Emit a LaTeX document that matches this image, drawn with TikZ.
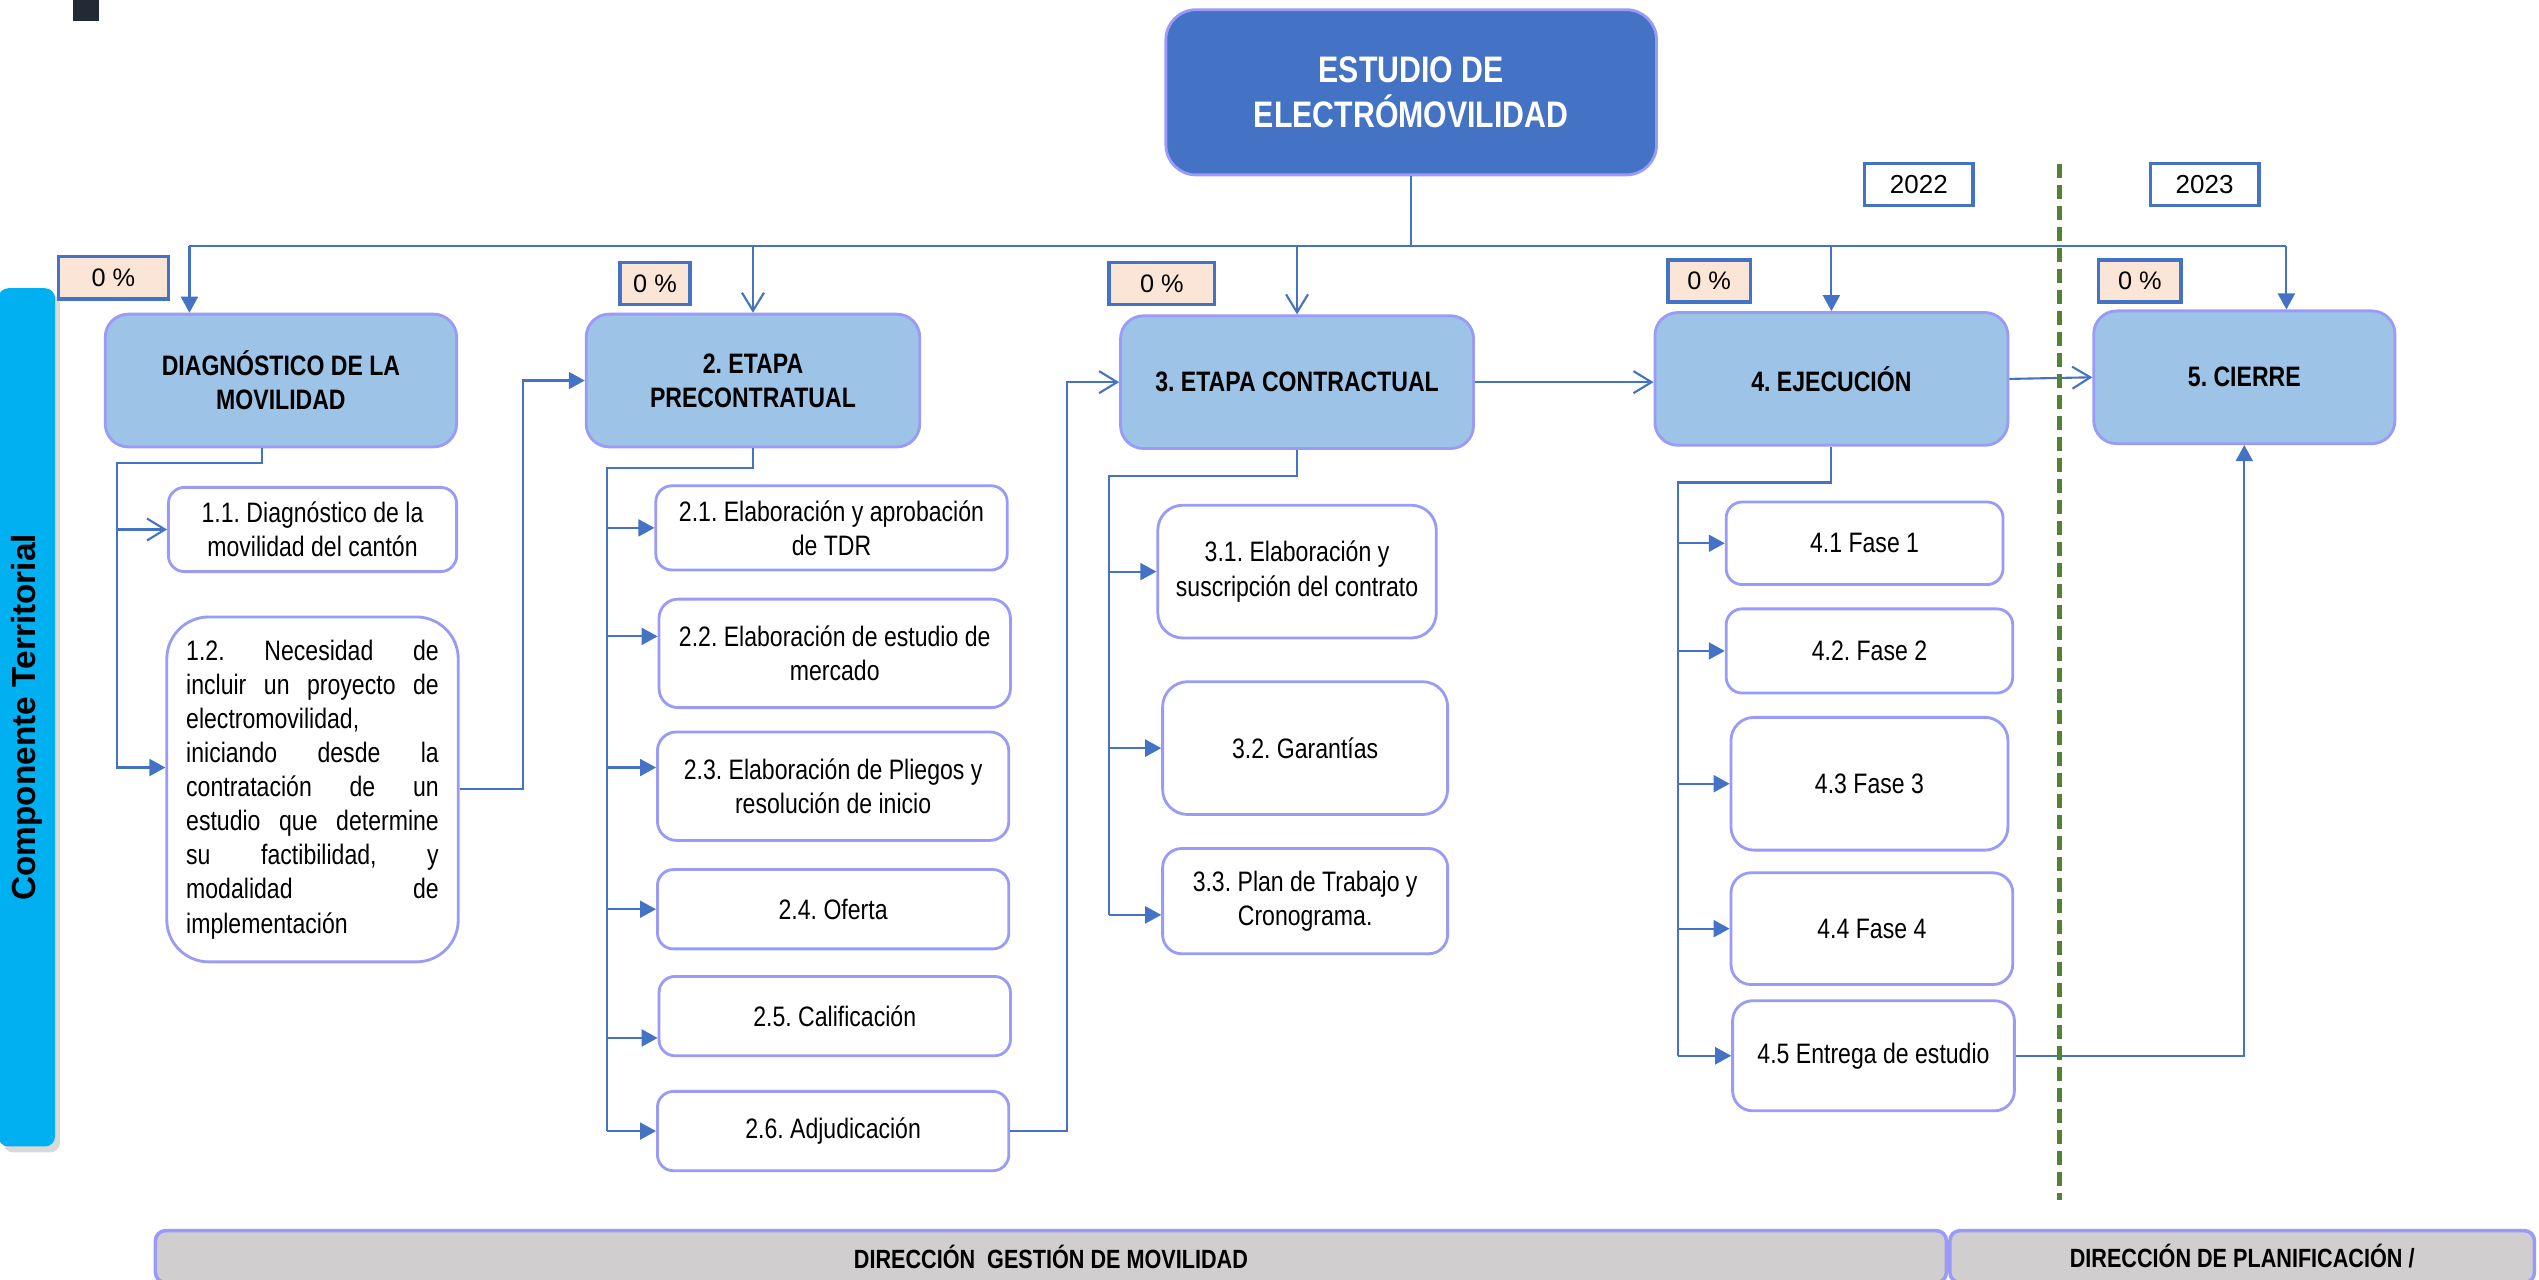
\documentclass[tikz,border=0pt]{standalone}
\usepackage{fontspec}
\setmainfont[FakeStretch=0.82]{Liberation Sans}
\newfontfamily\widesans{Liberation Sans}
\usepackage{graphicx}
\usepackage{tikz}
\usetikzlibrary{positioning, arrows.meta, shadows}

\definecolor{rootblue}{HTML}{4472C4}
\definecolor{phaseblue}{HTML}{9DC3E6}
\definecolor{boxedge}{HTML}{9A9AF8}
\definecolor{pctfill}{HTML}{FBE5D6}
\definecolor{sidecyan}{HTML}{00B0F0}
\definecolor{unitgray}{HTML}{D0CECE}
\definecolor{splitgreen}{HTML}{548235}
\definecolor{titledark}{HTML}{222A35}

\newcommand{\pxu}{0.1619mm}
\frenchspacing

\begin{document}
\begin{tikzpicture}[x=0.1619mm, y=-0.1619mm]
		% Styles
		\tikzstyle{rootblock} = [rectangle, draw=boxedge, line width=0.8pt, fill=rootblue,
		text=white, font=\bfseries\fontsize{10.5}{12.9}\selectfont, align=center,
		rounded corners=3mm, minimum width=303*\pxu, minimum height=102*\pxu]
		\tikzstyle{phase} = [rectangle, draw=boxedge, line width=0.8pt, fill=phaseblue,
		font=\bfseries\fontsize{8}{9.7}\selectfont, align=center, rounded corners=2.3mm,
		minimum height=82*\pxu]
		\tikzstyle{task} = [rectangle, draw=boxedge, line width=0.8pt, fill=white,
		font=\fontsize{8}{9.7}\selectfont, align=center, rounded corners=1.6mm]
		\tikzstyle{percent} = [rectangle, draw=rootblue, line width=1pt, fill=pctfill,
		font=\widesans\fontsize{7.2}{8}\selectfont, inner sep=0pt, minimum height=26*\pxu]
		\tikzstyle{yearbox} = [rectangle, draw=rootblue, line width=1pt, fill=white,
		font=\widesans\fontsize{7.4}{8}\selectfont, minimum width=67*\pxu, minimum height=26*\pxu]
		\tikzstyle{unit} = [rectangle, draw=boxedge, line width=1pt, fill=unitgray,
		font=\bfseries\fontsize{7.5}{9}\selectfont, rounded corners=1mm, minimum height=32*\pxu]
		\tikzstyle{sidebar} = [rectangle, fill=sidecyan, rounded corners=1mm,
		font=\widesans\bfseries\fontsize{9.5}{11}\selectfont,
		minimum width=35*\pxu, minimum height=530*\pxu,
		drop shadow={shadow xshift=0.5mm, shadow yshift=-0.6mm, opacity=0.3}]
		\tikzstyle{wire} = [draw=rootblue, line width=0.6pt]
		\tikzstyle{line} = [wire, -{Triangle[length=1.6mm, width=1.7mm]}]
		\tikzstyle{openline} = [wire, -{Straight Barb[length=1.8mm, width=2.2mm]}]
		\tikzstyle{split} = [draw=splitgreen, line width=1.5pt, dash pattern=on 1.4mm off 0.7mm]

		\useasboundingbox (0,0) rectangle (1568,790);
		\fill [titledark] (45,-5) rectangle (61,13);

		% Nodes
		\node [sidebar] (territorio) at (16.5,443) {\rotatebox{90}{Componente Territorial}};
		\node [rootblock] (root) at (871.5,57) {ESTUDIO DE\\ELECTRÓMOVILIDAD};
		\node [yearbox] (y2022) at (1185,114) {2022};
		\node [yearbox] (y2023) at (1361.5,114) {2023};

		\node [phase, minimum width=217*\pxu] (diag) at (173.5,235) {DIAGNÓSTICO DE LA\\MOVILIDAD};
		\node [phase, minimum width=206*\pxu] (etapa2) at (465,235) {2. ETAPA\\PRECONTRATUAL};
		\node [phase, minimum width=218*\pxu] (etapa3) at (801,236) {3. ETAPA CONTRACTUAL};
		\node [phase, minimum width=218*\pxu] (ejec) at (1131,234) {4. EJECUCIÓN};
		\node [phase, minimum width=186*\pxu] (cierre) at (1386,233) {5. CIERRE};

		\node [percent, minimum width=68*\pxu] (pct1) at (70,171.5) {0 \%};
		\node [percent, minimum width=43*\pxu] (pct2) at (404.5,175) {0 \%};
		\node [percent, minimum width=65*\pxu] (pct3) at (717.5,175) {0 \%};
		\node [percent, minimum width=51*\pxu] (pct4) at (1055.5,173.5) {0 \%};
		\node [percent, minimum width=51*\pxu] (pct5) at (1321.5,173.5) {0 \%};

		\node [task, minimum width=178*\pxu, minimum height=52*\pxu] (t11) at (193,327) {1.1. Diagnóstico de la\\movilidad del cantón};
		\node [task, minimum width=180*\pxu, minimum height=213*\pxu, rounded corners=4.2mm,
		text width=156*\pxu, align=justify] (t12) at (193,487.5)
		{\hyphenpenalty=10000 1.2. Necesidad de\linebreak incluir un proyecto de\linebreak electromovilidad,\newline iniciando desde la\linebreak contratación de un\linebreak estudio que determine\linebreak su factibilidad, y\linebreak modalidad de\linebreak implementación};

		\node [task, minimum width=217*\pxu, minimum height=52*\pxu] (t21) at (513.5,326) {2.1. Elaboración y aprobación\\de TDR};
		\node [task, minimum width=217*\pxu, minimum height=67*\pxu, rounded corners=1.9mm] (t22) at (515.5,403.5) {2.2. Elaboración de estudio de\\mercado};
		\node [task, minimum width=217*\pxu, minimum height=67*\pxu, rounded corners=1.9mm] (t23) at (514.5,485.5) {2.3. Elaboración de Pliegos y\\resolución de inicio};
		\node [task, minimum width=217*\pxu, minimum height=49*\pxu] (t24) at (514.5,561.5) {2.4. Oferta};
		\node [task, minimum width=217*\pxu, minimum height=49*\pxu] (t25) at (515.5,627.5) {2.5. Calificación};
		\node [task, minimum width=217*\pxu, minimum height=49*\pxu] (t26) at (514.5,698.5) {2.6. Adjudicación};

		\node [task, minimum width=172*\pxu, minimum height=82*\pxu, rounded corners=2.5mm] (t31) at (801,353) {3.1. Elaboración y\\suscripción del contrato};
		\node [task, minimum width=176*\pxu, minimum height=82*\pxu, rounded corners=2.5mm] (t32) at (806,462) {3.2. Garantías};
		\node [task, minimum width=176*\pxu, minimum height=65*\pxu, rounded corners=1.9mm] (t33) at (806,556.5) {3.3. Plan de Trabajo y\\Cronograma.};

		\node [task, minimum width=171*\pxu, minimum height=51*\pxu] (t41) at (1151.5,335.5) {4.1 Fase 1};
		\node [task, minimum width=177*\pxu, minimum height=52*\pxu] (t42) at (1154.5,402) {4.2. Fase 2};
		\node [task, minimum width=171*\pxu, minimum height=82*\pxu, rounded corners=2.3mm] (t43) at (1154.5,484) {4.3 Fase 3};
		\node [task, minimum width=174*\pxu, minimum height=69*\pxu, rounded corners=2mm] (t44) at (1156,573.5) {4.4 Fase 4};
		\node [task, minimum width=174*\pxu, minimum height=68*\pxu, rounded corners=2mm] (t45) at (1157,652) {4.5 Entrega de estudio};

		\node [unit, minimum width=1106*\pxu] (gestion) at (649,776) {DIRECCIÓN\ \ GESTIÓN DE MOVILIDAD};
		\node [unit, minimum width=361*\pxu, right=0pt of gestion] (planif) {DIRECCIÓN DE PLANIFICACIÓN /};

		% Connections
		\coordinate (busL) at (117,152);
		\coordinate (busR) at (1412,152);
		\path [wire] (root.south) -- (root.south |- busL);
		\path [wire] (busL) -- (busR);
		\path [line] (busL) -- (busL |- diag.north);
		\path [openline] (etapa2.north |- busL) -- (etapa2.north);
		\path [openline] (etapa3.north |- busL) -- (etapa3.north);
		\path [line] (ejec.north |- busL) -- (ejec.north);
		\path [line] (busR) -- (busR |- cierre.north);

		\coordinate (trunk1) at (72,286);
		\coordinate (in12) at ([yshift=13.5*\pxu]t12.west);
		\path [line] ([xshift=-11.5*\pxu]diag.south) |- (trunk1) |- (in12);
		\path [openline] (trunk1 |- t11.west) -- (t11.west);
		\path [line] (t12.east) -- ++(39,0) |- (etapa2.west);

		\coordinate (trunk2) at (375,289);
		\coordinate (in22) at ([yshift=10.5*\pxu]t22.west);
		\coordinate (in23) at ([yshift=11.5*\pxu]t23.west);
		\coordinate (in25) at ([yshift=-13.5*\pxu]t25.west);
		\path [wire] (etapa2.south) |- (trunk2) -- (trunk2 |- t26.west);
		\path [line] (trunk2 |- t21.west) -- (t21.west);
		\path [line] (trunk2 |- in22) -- (in22);
		\path [line] (trunk2 |- in23) -- (in23);
		\path [line] (trunk2 |- t24.west) -- (t24.west);
		\path [line] (trunk2 |- in25) -- (in25);
		\path [line] (trunk2 |- t26.west) -- (t26.west);
		\path [openline] (t26.east) -- ++(35,0) |- (etapa3.west);

		\coordinate (trunk3) at (685,294);
		\coordinate (in33) at ([yshift=-8.5*\pxu]t33.west);
		\path [wire] (etapa3.south) |- (trunk3) -- (trunk3 |- in33);
		\path [line] (trunk3 |- t31.west) -- (t31.west);
		\path [line] (trunk3 |- t32.west) -- (t32.west);
		\path [line] (trunk3 |- in33) -- (in33);
		\path [openline] (etapa3.east) -- (etapa3.east -| ejec.west);

		\coordinate (trunk4) at (1036,298);
		\path [wire] (ejec.south) |- (trunk4) -- (trunk4 |- t45.west);
		\path [line] (trunk4 |- t41.west) -- (t41.west);
		\path [line] (trunk4 |- t42.west) -- (t42.west);
		\path [line] (trunk4 |- t43.west) -- (t43.west);
		\path [line] (trunk4 |- t44.west) -- (t44.west);
		\path [line] (trunk4 |- t45.west) -- (t45.west);
		\path [openline] (ejec.east) -- (cierre.west);
		\path [line] (t45.east) -| (cierre.south);

		% 2022 / 2023
		\coordinate (splitTop) at (1272,101);
		\coordinate (splitBot) at (1272,741);
		\path [split] (splitTop) -- (splitBot);
	\end{tikzpicture}
\end{document}
